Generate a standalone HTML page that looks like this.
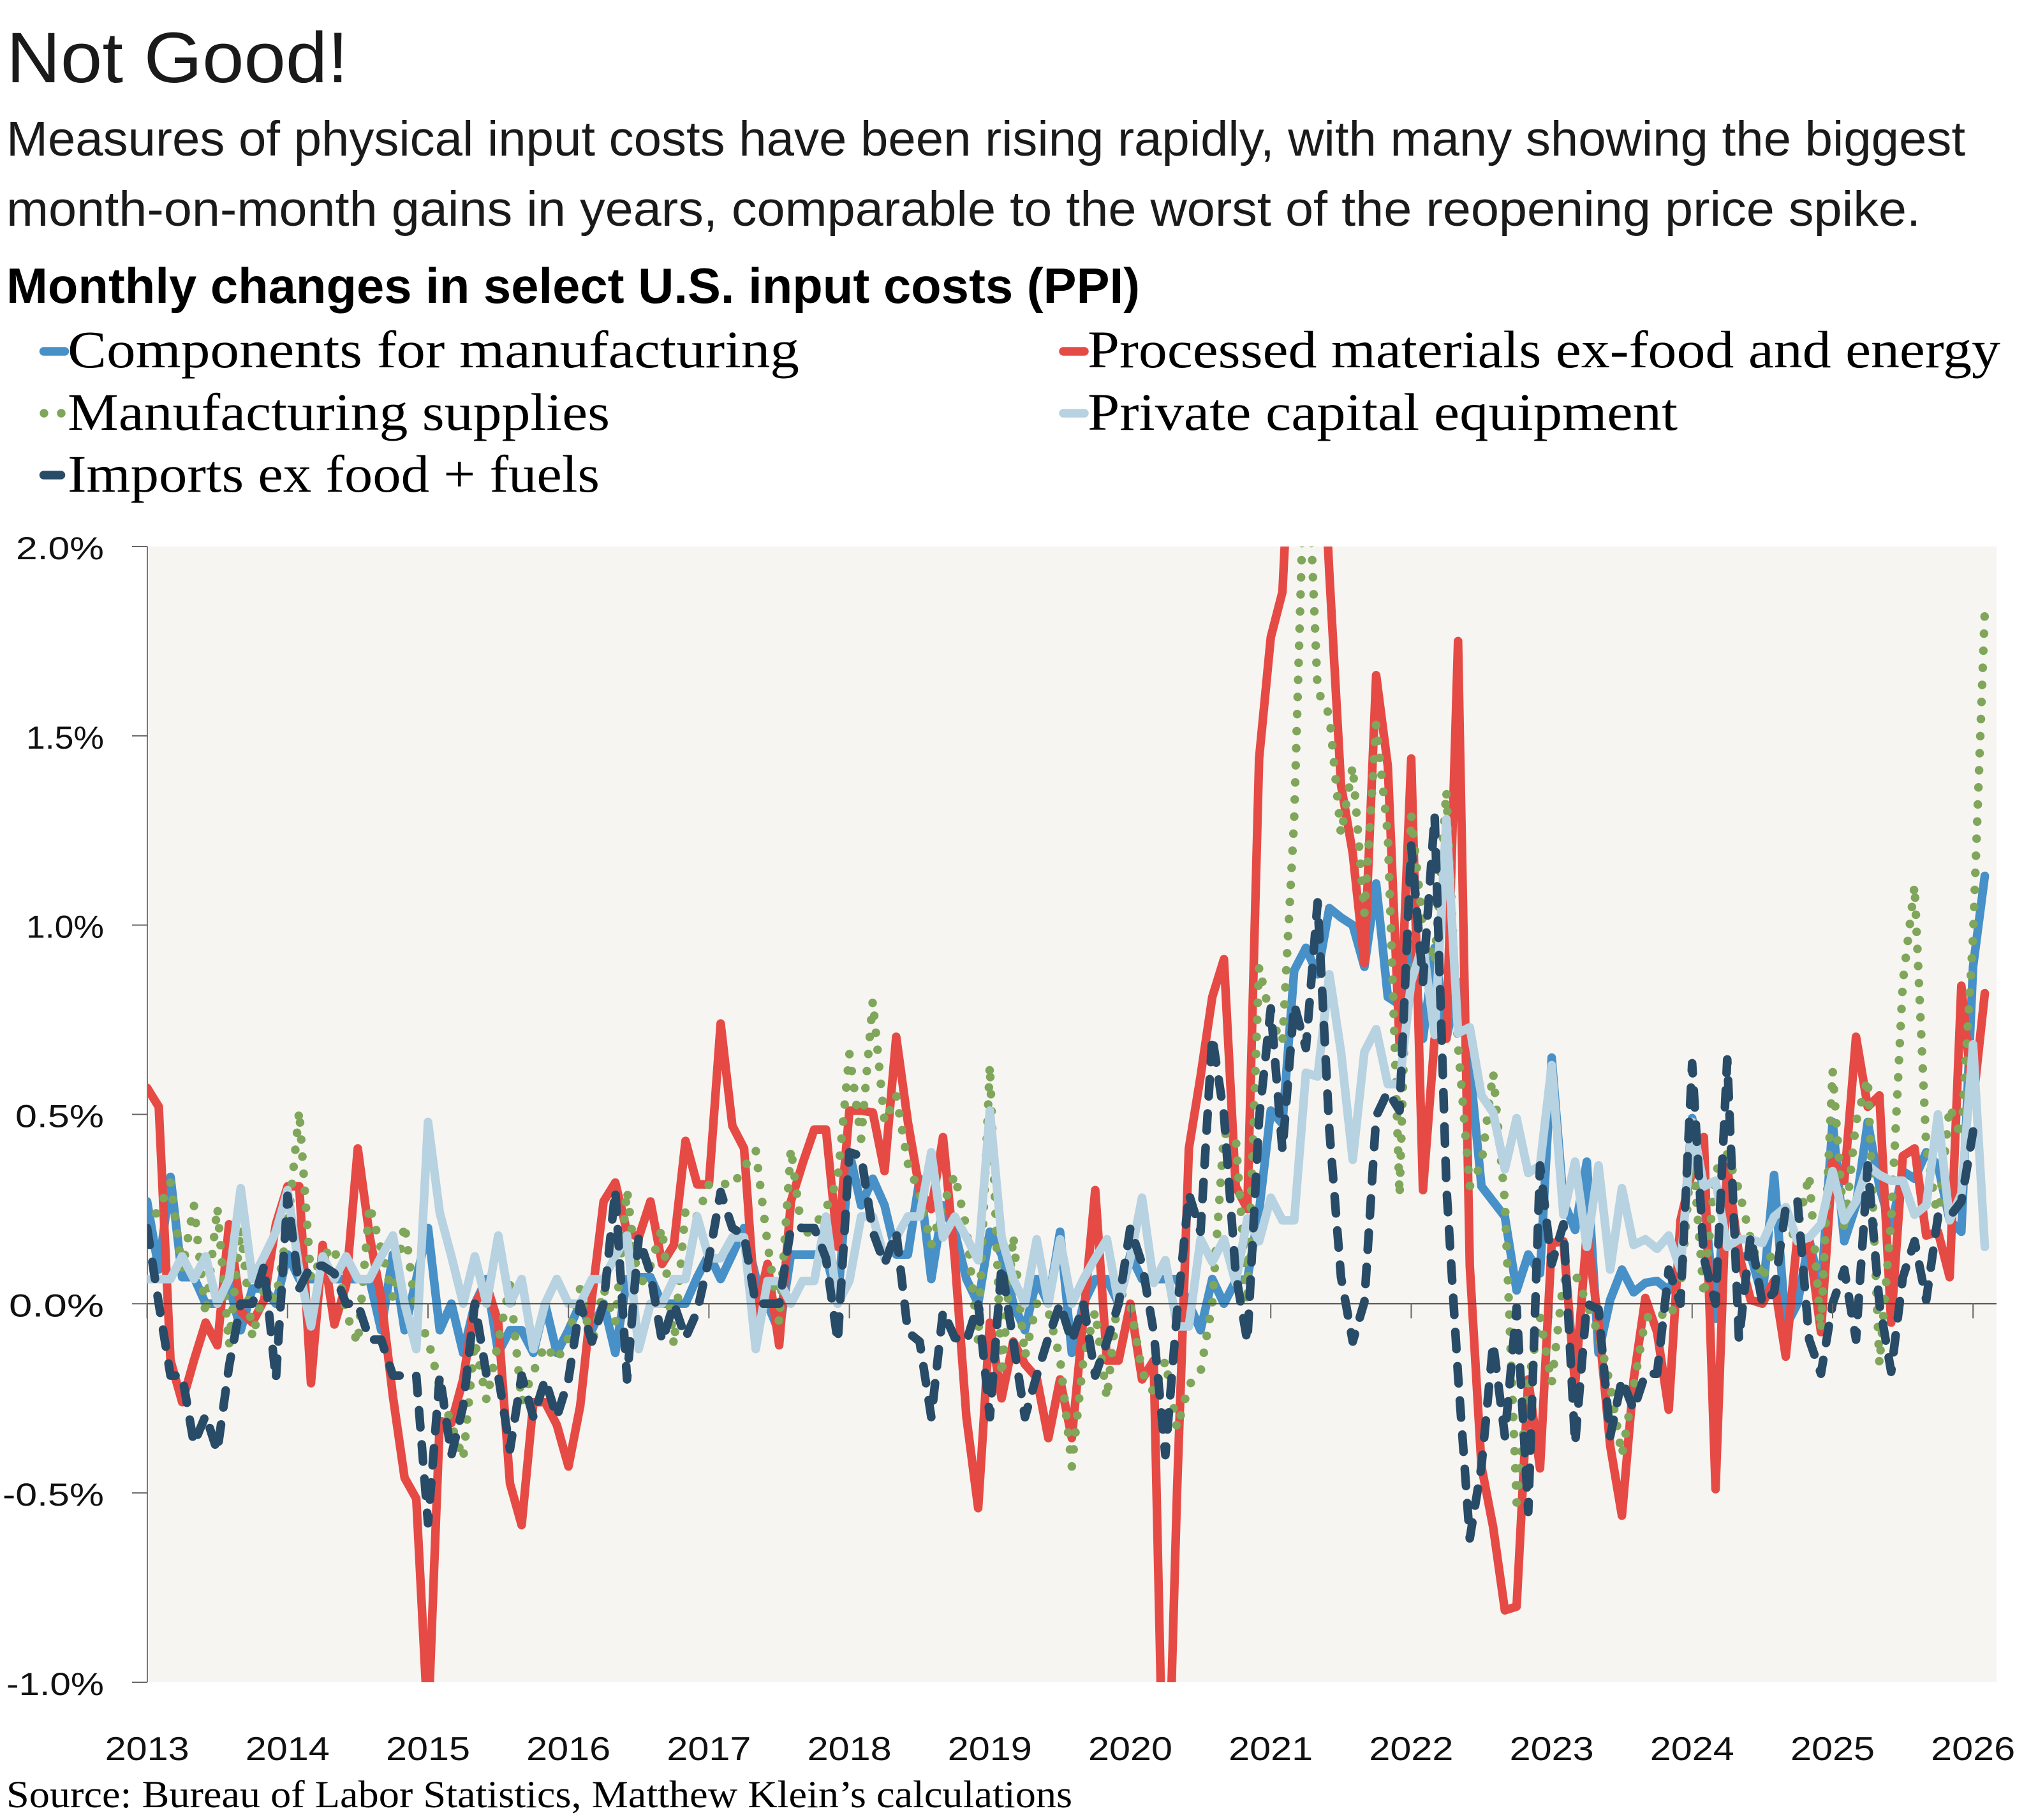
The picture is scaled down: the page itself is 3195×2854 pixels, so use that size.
<!DOCTYPE html>
<html lang="en">
<head>
<meta charset="utf-8">
<title>Not Good!</title>
<style>
html,body{margin:0;padding:0;background:#fff;}
svg{display:block;}
.sans{font-family:"Liberation Sans",sans-serif;}
.serif{font-family:"Liberation Serif",serif;}
</style>
</head>
<body>
<svg id="chart" xmlns="http://www.w3.org/2000/svg" width="3195" height="2854" viewBox="0 0 3195 2854">
  <rect x="0" y="0" width="3195" height="2854" fill="#ffffff"/>

  <text class="sans" x="10" y="129" font-size="112" fill="#1a1a1a" textLength="536" lengthAdjust="spacingAndGlyphs">Not Good!</text>
  <text class="sans" x="10" y="244" font-size="77" fill="#1a1a1a" textLength="3071" lengthAdjust="spacingAndGlyphs">Measures of physical input costs have been rising rapidly, with many showing the biggest</text>
  <text class="sans" x="10" y="354" font-size="77" fill="#1a1a1a" textLength="3001" lengthAdjust="spacingAndGlyphs">month-on-month gains in years, comparable to the worst of the reopening price spike.</text>
  <text class="sans" x="10" y="475" font-size="78" font-weight="700" fill="#000" textLength="1777" lengthAdjust="spacingAndGlyphs">Monthly changes in select U.S. input costs (PPI)</text>

  <g>
    <g>
      <line x1="68.5" y1="551" x2="101.5" y2="551" stroke="#4790c8" stroke-width="13.5" stroke-linecap="round"/>
      <text class="serif" x="106" y="576" font-size="83" fill="#000" textLength="1147" lengthAdjust="spacingAndGlyphs">Components for manufacturing</text>
    </g>
    <g>
      <circle cx="69" cy="648" r="6.7" fill="#7fa65a"/>
      <circle cx="96" cy="648" r="6.7" fill="#7fa65a"/>
      <text class="serif" x="106" y="674" font-size="83" fill="#000" textLength="850" lengthAdjust="spacingAndGlyphs">Manufacturing supplies</text>
    </g>
    <g>
      <line x1="68.5" y1="745" x2="95.5" y2="745" stroke="#284b67" stroke-width="13.5" stroke-linecap="round"/>
      <text class="serif" x="106" y="771" font-size="83" fill="#000" textLength="834" lengthAdjust="spacingAndGlyphs">Imports ex food + fuels</text>
    </g>
    <g>
      <line x1="1667" y1="551" x2="1700" y2="551" stroke="#e64a45" stroke-width="13.5" stroke-linecap="round"/>
      <text class="serif" x="1705" y="576" font-size="83" fill="#000" textLength="1431" lengthAdjust="spacingAndGlyphs">Processed materials ex-food and energy</text>
    </g>
    <g>
      <line x1="1667" y1="648" x2="1700" y2="648" stroke="#b7d2e1" stroke-width="13.5" stroke-linecap="round"/>
      <text class="serif" x="1705" y="674" font-size="83" fill="#000" textLength="925" lengthAdjust="spacingAndGlyphs">Private capital equipment</text>
    </g>
  </g>

  <rect x="231" y="857" width="2899" height="1781" fill="#f7f5f1"/>
  <defs>
    <clipPath id="plot-clip"><rect x="231" y="857" width="2899" height="1781"/></clipPath>
  </defs>
  <g id="axes"></g>
  <g id="series" clip-path="url(#plot-clip)"></g>
  <g id="zero"></g>
  <g id="labels"></g>

  <text class="serif" x="10" y="2834" font-size="60" fill="#000" textLength="1671" lengthAdjust="spacingAndGlyphs">Source: Bureau of Labor Statistics, Matthew Klein’s calculations</text>
</svg>

<script>
// Monthly values in percent, starting January 2013; each row is one year.
var componentsValues = [
  .27,.09,.335,.07,.07,0,0,.05,-.07,.04,.04,0,
  .13,.065,.065,.065,.065,.065,.065,.065,-.07,.13,-.07,.065,
  .2,-.07,0,-.13,0,.065,-.13,-.07,-.07,-.13,0,-.13,
  -.07,0,-.07,0,-.13,.065,.07,.07,0,0,0,.07,
  .13,.065,.13,.2,.07,0,-.075,.13,.13,.13,.13,0,
  .4,.26,.33,.26,.13,.13,.33,.065,.26,.19,.065,0,
  .19,.13,0,-.07,.065,0,.19,-.13,0,.065,.065,0,
  .13,.065,.065,.065,.065,0,-.07,.065,0,.06,.065,.245,
  .51,.475,.88,.94,.87,1.045,1.02,1.0,.89,1.11,.81,.79,
  .95,.7,.94,.7,.85,.63,.31,.27,.23,.035,.13,.08,
  .65,.27,.195,.375,-.13,.01,.09,.03,.055,.06,.035,.1,
  .49,.285,-.04,.35,.12,.13,.015,.34,-.06,0,.17,.03,
  .48,.165,.26,.48,.31,.2,.35,.33,.4,.365,.22,.19,
  .89,1.13
];
var processedValues = [
  .57,.52,-.15,-.26,-.15,-.05,-.11,.21,-.02,-.05,.01,.21,
  .31,.31,-.21,.155,-.055,.05,.41,.18,.015,-.245,-.46,-.515,
  -1.12,-.31,-.315,-.2,0,.05,-.05,-.475,-.585,-.26,-.26,-.32,
  -.43,-.27,.015,.27,.32,.19,.175,.27,.105,.155,.43,.315,
  .315,.74,.47,.41,-.03,.105,-.11,.27,.37,.46,.46,.15,
  .51,.51,.505,.35,.705,.48,.3,.25,.44,.12,-.3,-.54,
  -.05,-.25,-.1,-.16,-.195,-.355,-.2,-.355,-.035,.3,-.15,-.15,
  0,-.2,-.15,-1.58,-.49,.41,.6,.81,.91,.31,.25,1.44,
  1.76,1.88,2.5,2.7,2.55,1.93,1.37,1.19,.9,1.66,1.42,.685,
  1.44,.3,.7,.7,1.75,.1,-.43,-.59,-.81,-.8,-.2,-.435,
  .16,.165,-.215,.19,-.05,-.375,-.56,-.2,.015,-.075,-.28,.22,
  .35,.44,-.49,.36,.13,.01,0,.06,-.14,.18,.16,-.075,
  .375,.325,.705,.52,.55,-.05,.39,.41,.18,.19,.07,.84,
  .53,.82
];
var suppliesValues = [
  .2,.25,.32,.09,.26,-.03,.255,-.11,.2,-.09,.04,.01,
  .2,.51,.065,.125,.15,-.025,-.105,.26,.145,.015,.21,-.03,
  -.095,-.22,-.32,-.41,-.1,-.255,-.1,.05,-.26,-.18,-.11,-.15,
  -.09,.04,-.11,.04,-.05,.3,.04,.1,.2,-.11,.25,.23,
  .315,.32,.31,.36,.405,.16,-.05,.41,.175,.205,.25,.33,
  .66,.435,.8,.48,.55,.37,.29,.155,.26,.34,.2,-.1,
  .63,-.19,.18,-.14,0,-.02,-.145,-.43,-.145,-.02,-.25,.035,
  0,-.18,-.235,-.15,-.33,-.215,-.18,0,.45,.44,0,.89,
  .75,.69,1.28,2.37,1.62,1.555,1.24,1.42,1.03,1.53,1.24,.285,
  1.29,1.0,.9,1.355,.68,.31,.37,.61,.27,-.525,-.21,-.035,
  -.21,.06,.08,0,-.08,-.215,-.4,-.22,-.04,-.02,-.04,.03,
  .415,.02,.35,.395,.3,.17,.065,.15,.16,.2,.34,-.07,
  .615,.19,.48,.595,-.16,.22,.85,1.105,.415,.22,.52,.44,
  .97,1.83
];
var capitalValues = [
  .065,.065,.065,.125,.065,.125,0,.065,.305,.065,.125,.19,
  .3,.09,-.06,.125,.065,.125,.065,.065,.125,.18,0,-.12,
  .48,.24,.125,0,.125,0,.18,0,.065,-.12,0,.065,
  0,0,.065,.065,.125,.18,-.12,0,0,.065,.065,.23,
  .12,.12,.175,.175,-.12,.06,.06,0,.06,.06,.23,0,
  .06,.23,.23,.12,.175,.23,.23,.4,.175,.23,.175,.115,
  .51,.175,.065,0,.17,0,.17,0,.065,.12,.17,0,
  .12,.28,.055,.115,-.06,-.06,.17,.11,.17,.055,.225,.165,
  .28,.22,.22,.61,.6,.87,.665,.38,.665,.725,.58,.58,
  .85,.95,.71,1.28,.715,.73,.55,.505,.355,.49,.345,.365,
  .63,.235,.375,.15,.365,.09,.305,.155,.17,.145,.18,.09,
  .48,.31,.325,.15,.17,.17,.16,.23,.255,.165,.175,.21,
  .35,.22,.27,.365,.34,.325,.325,.235,.26,.5,.22,.29,
  .685,.15
];
var importsValues = [
  .2,0,-.19,-.19,-.37,-.295,-.39,-.165,0,0,.1,-.2,
  .285,.04,.1,.1,.08,0,0,-.095,-.095,-.19,-.19,-.19,
  -.58,-.19,-.4,-.27,0,-.19,-.19,-.385,-.19,-.3,-.2,-.3,
  -.2,0,-.1,0,.3,-.2,.175,.08,-.1,0,-.09,-.02,
  .12,.295,.2,.18,0,0,0,.2,.2,.2,.12,-.1,
  .4,.39,.19,.105,.19,-.075,-.1,-.3,-.02,-.09,-.1,0,
  -.3,.1,-.1,-.3,-.19,-.09,0,-.1,0,-.19,-.1,0,
  .2,.105,-.075,-.4,-.02,.29,.19,.705,.5,.08,-.1,.49,
  .78,.405,.79,.675,1.06,.46,.07,-.1,.005,.495,.56,.51,
  1.21,.85,1.29,.31,-.19,-.62,-.43,-.105,-.35,-.01,-.55,.365,
  .105,.21,-.37,0,-.015,-.35,-.2,-.28,-.185,-.185,.09,0,
  .635,.12,0,.645,-.095,.18,0,.03,.255,.27,-.095,-.185,
  0,.09,-.095,.365,0,-.18,.07,.165,.01,.23,.23,.27,
  .455
];
var yearLabels = ["2013","2014","2015","2016","2017","2018","2019","2020","2021","2022","2023","2024","2025","2026"];
var yTickValues = [2.0,1.5,1.0,0.5,0.0,-0.5,-1.0];
var yTickLabels = ["2.0%","1.5%","1.0%","0.5%","0.0%","-0.5%","-1.0%"];

var NS = "http://www.w3.org/2000/svg";
var PLOT = {left:230.6, right:3130, top:857, bottom:2638, yMax:2, yMin:-1, monthsPerPx:18.35};

function xMonth(monthIndex){ return PLOT.left + monthIndex * PLOT.monthsPerPx; }
function yValue(v){ return PLOT.top + (PLOT.yMax - v) / (PLOT.yMax - PLOT.yMin) * (PLOT.bottom - PLOT.top); }
function linePath(values){
  var d = "";
  for (var i = 0; i < values.length; i++) {
    d += (i === 0 ? "M" : "L") + xMonth(i).toFixed(1) + " " + yValue(values[i]).toFixed(1);
  }
  return d;
}
function make(tag, attrs, parent){
  var el = document.createElementNS(NS, tag);
  for (var k in attrs) { el.setAttribute(k, attrs[k]); }
  parent.appendChild(el);
  return el;
}

var seriesGroup = document.getElementById("series");
var axesGroup = document.getElementById("axes");
var zeroGroup = document.getElementById("zero");
var labelGroup = document.getElementById("labels");

// Series, back to front
var componentsLine = make("path", {d:linePath(componentsValues), fill:"none", stroke:"#4790c8", "stroke-width":13.5, "stroke-linecap":"round", "stroke-linejoin":"round"}, seriesGroup);



var processedLine = make("path", {d:linePath(processedValues), fill:"none", stroke:"#e64a45", "stroke-width":13.5, "stroke-linecap":"round", "stroke-linejoin":"round"}, seriesGroup);



var suppliesLine = make("path", {d:linePath(suppliesValues), fill:"none", stroke:"#7fa65a", "stroke-width":13.5, "stroke-linecap":"round", "stroke-linejoin":"round", "stroke-dasharray":"0.01 26.8"}, seriesGroup);



var capitalLine = make("path", {d:linePath(capitalValues), fill:"none", stroke:"#b7d2e1", "stroke-width":13.5, "stroke-linecap":"round", "stroke-linejoin":"round"}, seriesGroup);



var importsLine = make("path", {d:linePath(importsValues), fill:"none", stroke:"#284b67", "stroke-width":13.5, "stroke-linecap":"round", "stroke-linejoin":"round", "stroke-dasharray":"27 26.8"}, seriesGroup);



// Y axis
var yAxisLine = make("line", {x1:231, y1:PLOT.top, x2:231, y2:PLOT.bottom, stroke:"#777", "stroke-width":2}, axesGroup);



var yLabelWidths = {"2.0%":138,"1.5%":122,"1.0%":122,"0.5%":139,"0.0%":149,"-0.5%":159,"-1.0%":153};
yTickValues.forEach(function(v, i){
  var y = yValue(v);
  var tick = make("line", {x1:207, y1:y, x2:231, y2:y, stroke:"#666", "stroke-width":2}, axesGroup);
  
  
  var w = yLabelWidths[yTickLabels[i]];
  var label = make("text", {x:163 - w, y:y + 20, "font-size":50, fill:"#111", "class":"sans", textLength:w, lengthAdjust:"spacingAndGlyphs"}, labelGroup);
  
  
  label.textContent = yTickLabels[i];
});

// Zero line and year ticks
var zeroLine = make("line", {x1:231, y1:yValue(0), x2:PLOT.right, y2:yValue(0), stroke:"#444", "stroke-width":2}, zeroGroup);



yearLabels.forEach(function(year, i){
  var x = xMonth(i * 12);
  var tick = make("line", {x1:x, y1:yValue(0), x2:x, y2:yValue(0) + 23, stroke:"#666", "stroke-width":2}, zeroGroup);
  
  
  var label = make("text", {x:x - 66, y:2760, "font-size":52, fill:"#111", "class":"sans", textLength:132, lengthAdjust:"spacingAndGlyphs"}, labelGroup);
  
  
  label.textContent = year;
});
</script>
</body>
</html>
